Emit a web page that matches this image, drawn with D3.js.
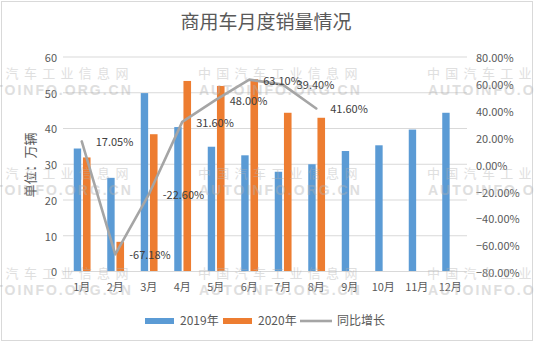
<!DOCTYPE html>
<html><head><meta charset="utf-8">
<script src="https://cdn.jsdelivr.net/npm/d3@7"></script>
<style>
html,body{margin:0;padding:0;background:#fff;}
text{font-family:"Noto Sans CJK SC","Noto Sans",sans-serif;}
</style></head>
<body><svg id="c" width="534" height="344"></svg>
<script>
const months = ["1月","2月","3月","4月","5月","6月","7月","8月","9月","10月","11月","12月"];
const sales2019 = [34.4,26.2,49.9,40.4,34.9,32.5,27.9,30.0,33.7,35.3,39.7,44.4];
const sales2020 = [31.9,8.3,38.4,53.3,51.9,53.8,44.4,43.0];
const growth = [17.05,-67.18,-22.60,31.60,48.00,63.10,59.40,41.60];
const growthLabels = ["17.05%","-67.18%","-22.60%","31.60%","48.00%","63.10%","39.40%","41.60%"];
const leftTicks = [0,10,20,30,40,50,60];
const rightTicks = [-80,-60,-40,-20,0,20,40,60,80];
const legendItems = ["2019年","2020年","同比增长"];

const svg = d3.select("#c");
const C1="#5b9bd5", C2="#ed7d31", C3="#a5a5a5", TXT="#595959";

svg.append("rect").attr("x",1.5).attr("y",1.5).attr("width",531).attr("height",339)
  .attr("fill","#fff").attr("stroke","#d9d9d9");

const x = d3.scaleBand().domain(months).range([65,467]).padding(0);
const y = d3.scaleLinear().domain([0,60]).range([271.5,57]);
const y2 = d3.scaleLinear().domain([-80,80]).range([271.5,57]);

// gridlines
svg.append("g").selectAll("line").data(leftTicks.filter(d=>d>0)).join("line")
  .attr("x1",63).attr("x2",467).attr("y1",d=>y(d)).attr("y2",d=>y(d))
  .attr("stroke","#d9d9d9").attr("stroke-width",1);

// left axis
const ga = svg.append("g").attr("transform","translate(57,0)")
  .call(d3.axisLeft(y).tickValues(leftTicks).tickSize(0).tickPadding(0));
ga.select(".domain").remove();
ga.selectAll("text").attr("fill",TXT).style("font-size","11px").attr("dy","0.4em");

// right axis
const gr = svg.append("g").attr("transform","translate(476,0)")
  .call(d3.axisRight(y2).tickValues(rightTicks).tickSize(0).tickPadding(0).tickFormat(d=>d3.format(".2f")(d)+"%"));
gr.select(".domain").remove();
gr.selectAll("text").attr("fill",TXT).style("font-size","11px").attr("dy","0.45em");

// bars
svg.append("g").selectAll("rect").data(sales2019).join("rect")
  .attr("x",(d,i)=>x(months[i])+x.bandwidth()/2-8).attr("width",7.4)
  .attr("y",d=>y(d)).attr("height",d=>y(0)-y(d)).attr("fill",C1);
svg.append("g").selectAll("rect").data(sales2020).join("rect")
  .attr("x",(d,i)=>x(months[i])+x.bandwidth()/2+1.2).attr("width",7.6)
  .attr("y",d=>y(d)).attr("height",d=>y(0)-y(d)).attr("fill",C2);

// baseline
svg.append("line").attr("x1",63).attr("x2",467).attr("y1",y(0)).attr("y2",y(0))
  .attr("stroke","#d9d9d9");

// category axis
const gx = svg.append("g").attr("transform",`translate(0,${y(0)})`)
  .call(d3.axisBottom(x).tickSize(0).tickPadding(12));
gx.select(".domain").remove();
gx.selectAll("text").attr("fill",TXT).style("font-size","11px");

// line
const line = d3.line().x((d,i)=>x(months[i])+x.bandwidth()/2).y(d=>y2(d));
svg.append("path").datum(growth).attr("d",line).attr("fill","none")
  .attr("stroke",C3).attr("stroke-width",2.6).attr("stroke-linejoin","round").attr("stroke-linecap","round");

// labels
svg.append("g").selectAll("text").data(growth).join("text")
  .attr("x",(d,i)=>x(months[i])+x.bandwidth()/2+14).attr("y",d=>y2(d)+1)
  .attr("dy","0.35em").attr("fill","#404040").style("font-size","11px")
  .text((d,i)=>growthLabels[i]);

// title
svg.append("text").attr("x",266).attr("y",22).attr("dy","0.35em").attr("text-anchor","middle")
  .attr("fill",TXT).style("font-size","19px").text("商用车月度销量情况");

// y title
svg.append("text").attr("transform","translate(30,165) rotate(-90)").attr("text-anchor","middle")
  .attr("dy","0.35em").attr("fill",TXT).style("font-size","13px").text("单位：万辆");

// legend
const lg = svg.append("g");
const lx = [145,223,300];
lg.append("rect").attr("x",lx[0]).attr("y",318).attr("width",29).attr("height",6).attr("fill",C1);
lg.append("rect").attr("x",lx[1]).attr("y",318).attr("width",29).attr("height",6).attr("fill",C2);
lg.append("line").attr("x1",lx[2]).attr("x2",lx[2]+32).attr("y1",321).attr("y2",321).attr("stroke",C3).attr("stroke-width",2.6);
lg.selectAll("text").data(legendItems).join("text")
  .attr("x",(d,i)=>lx[i]+(i<2?35:37)).attr("y",321).attr("dy","0.35em")
  .attr("fill",TXT).style("font-size","12px").text(d=>d);

// watermarks
const wm = svg.append("g").attr("fill","#b0b0b0").attr("opacity",0.4).style("pointer-events","none");
[73,173,273].forEach(ry=>{
  [-31,198,427].forEach(rx=>{
    wm.append("text").attr("x",rx).attr("y",ry).attr("dy","0.35em")
      .style("font-size","13px").style("letter-spacing","5.3px").text("中国汽车工业信息网");
    wm.append("text").attr("x",rx+1).attr("y",ry+17).attr("dy","0.35em")
      .style("font-size","14px").style("font-weight","bold").style("letter-spacing","2px")
      .style("font-family","'Liberation Sans',sans-serif").text("AUTOINFO.ORG.CN");
  });
});
</script></body></html>
